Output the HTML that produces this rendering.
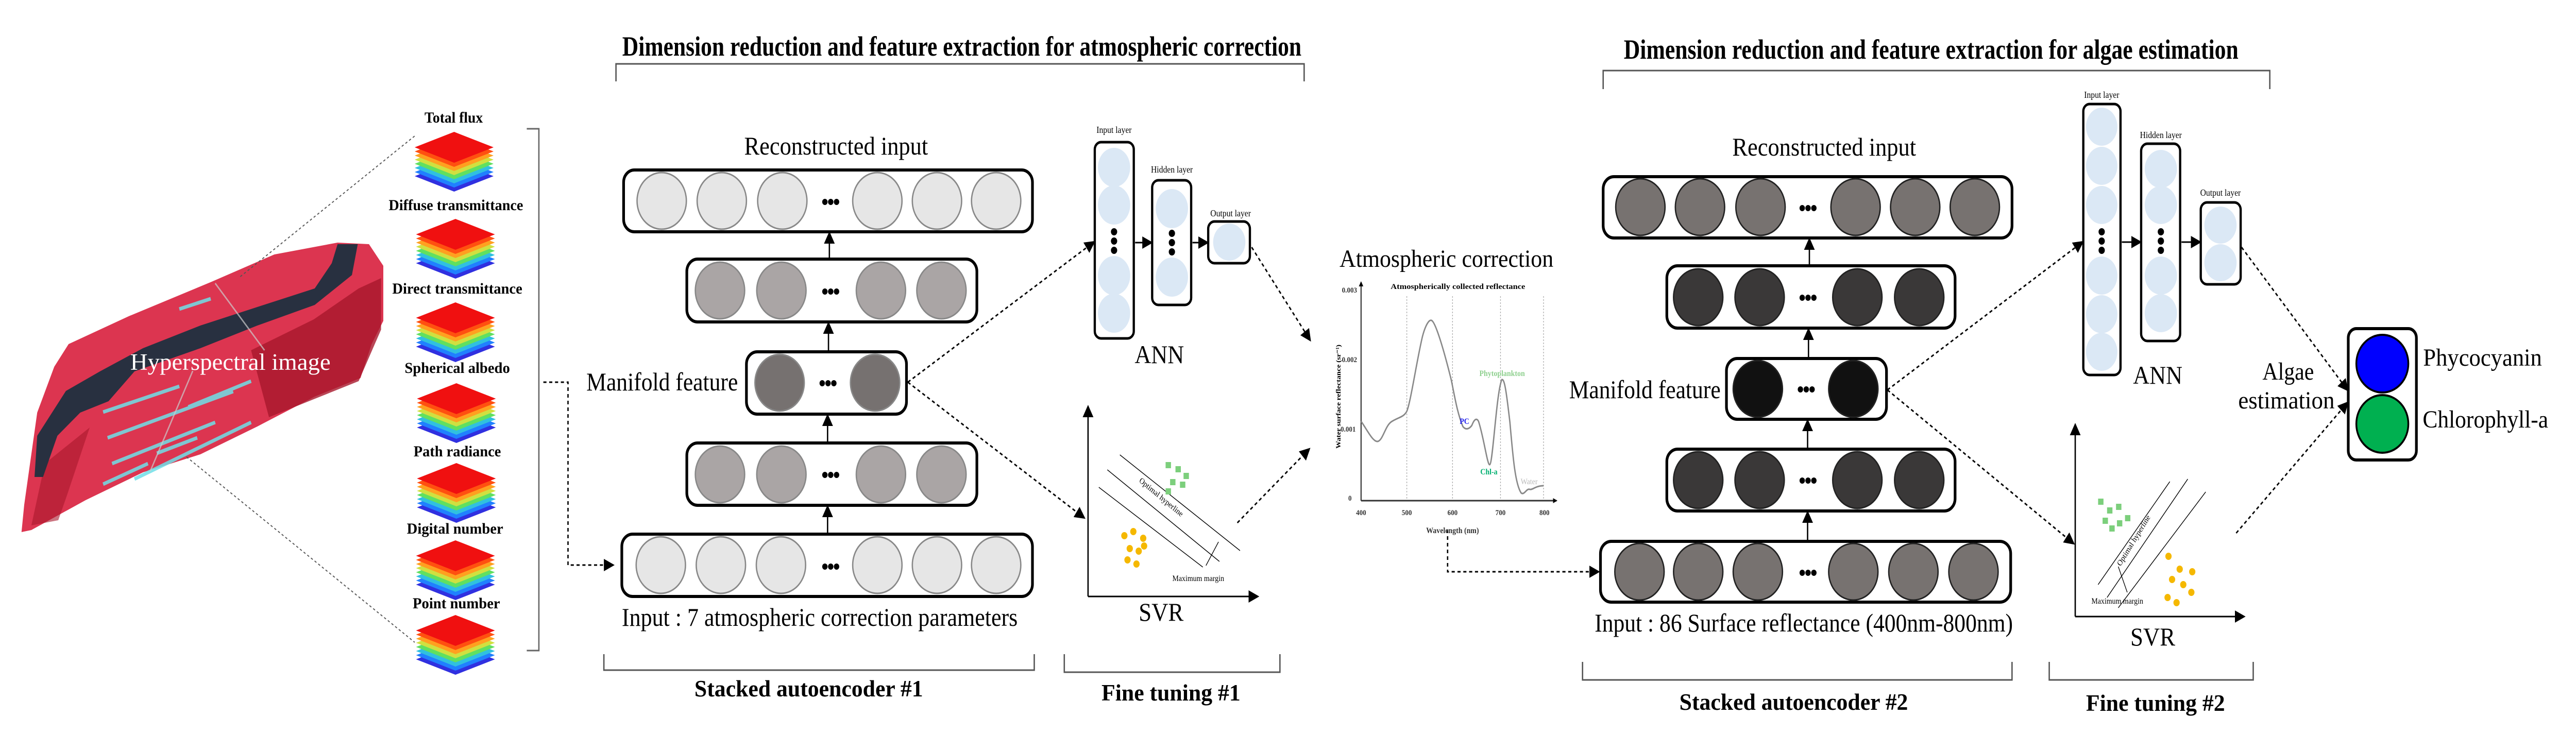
<!DOCTYPE html>
<html><head><meta charset="utf-8"><style>
html,body{margin:0;padding:0;background:#fff;width:100%;height:100%;overflow:hidden;}
svg{display:block;width:100vw;height:100vh;}
text{font-family:"Liberation Serif",serif;}
</style></head><body>
<svg viewBox="0 0 5746 1425" preserveAspectRatio="none" xmlns="http://www.w3.org/2000/svg">
<defs>
<marker id="ah" markerWidth="10" markerHeight="10" refX="8" refY="5" orient="auto" markerUnits="userSpaceOnUse" viewBox="0 0 10 10"><path d="M0,0 L10,5 L0,10 z" fill="#000"/></marker>
<marker id="ab" markerWidth="24" markerHeight="24" refX="20" refY="12" orient="auto" markerUnits="userSpaceOnUse" viewBox="0 0 24 24"><path d="M0,0 L24,12 L0,24 z" fill="#000"/></marker>
<g id="cube">
<polygon points="0,70 88,40 176,70 88,100" fill="#3030e0"/>
<polygon points="0,62 88,32 176,62 88,92" fill="#2080ff"/>
<polygon points="0,54 88,24 176,54 88,84" fill="#30c0e0"/>
<polygon points="0,46 88,16 176,46 88,76" fill="#60e060"/>
<polygon points="0,38 88,8 176,38 88,68" fill="#d0e040"/>
<polygon points="0,30 88,0 176,30 88,60" fill="#ffa020"/>
<polygon points="0,22 88,-8 176,22 88,52" fill="#ff5010"/>
<polygon points="0,14 88,-16 176,14 88,44" fill="#f01010"/>
</g>
</defs>

<!-- Hyperspectral image -->
<polygon points="48,1033 54,980 83,801 121,712 153,668 287,614 472,547 612,494 753,471 823,474 855,516 855,623 829,668 804,734 702,770 574,828 447,882 319,917 191,971 70,1029" fill="#dc3550"/>
<polygon points="560,680 700,620 800,560 850,540 850,640 800,740 700,775 600,810" fill="#a8182c" opacity="0.8"/>
<polygon points="100,900 200,830 150,960 130,1010 70,1020" fill="#a8182c" opacity="0.6"/>
<polygon points="753,474 798,474 785,534 702,592 574,632 447,676 300,721 242,779 179,801 128,846 96,926 77,926 83,846 147,759 223,721 319,676 447,632 574,596 702,560 740,511" fill="#283040"/>
<g stroke="#6fe0e8" stroke-width="7" opacity="0.85">
<line x1="230" y1="800" x2="400" y2="750"/><line x1="240" y1="850" x2="520" y2="760"/>
<line x1="250" y1="900" x2="480" y2="820"/><line x1="300" y1="930" x2="560" y2="820"/>
<line x1="350" y1="880" x2="440" y2="850"/><line x1="400" y1="600" x2="470" y2="580"/>
<line x1="420" y1="790" x2="560" y2="740"/><line x1="230" y1="940" x2="330" y2="900"/>
</g>
<g stroke="#ccc" stroke-width="3" opacity="0.7"><line x1="480" y1="550" x2="590" y2="680"/><line x1="430" y1="720" x2="335" y2="915"/></g>
<text x="514" y="718" font-size="46" fill="#fff" text-anchor="middle" textLength="447" lengthAdjust="spacingAndGlyphs">Hyperspectral image</text>
<line x1="536" y1="537" x2="925" y2="264" stroke="#555" stroke-width="2" stroke-dasharray="5,5"/>
<line x1="416" y1="887" x2="925" y2="1247" stroke="#555" stroke-width="2" stroke-dasharray="5,5"/>

<!-- Cubes -->
<g font-weight="bold" font-size="30" text-anchor="middle">
<text x="1012" y="238" textLength="130" lengthAdjust="spacingAndGlyphs">Total flux</text>
<text x="1017" y="408" textLength="300" lengthAdjust="spacingAndGlyphs">Diffuse transmittance</text>
<text x="1020" y="570" textLength="290" lengthAdjust="spacingAndGlyphs">Direct transmittance</text>
<text x="1020" y="724" textLength="235" lengthAdjust="spacingAndGlyphs">Spherical albedo</text>
<text x="1020" y="886" textLength="195" lengthAdjust="spacingAndGlyphs">Path radiance</text>
<text x="1015" y="1036" textLength="215" lengthAdjust="spacingAndGlyphs">Digital number</text>
<text x="1018" y="1181" textLength="195" lengthAdjust="spacingAndGlyphs">Point number</text>
</g>
<use href="#cube" x="925" y="272"/>
<use href="#cube" x="928" y="441"/>
<use href="#cube" x="928" y="603"/>
<use href="#cube" x="930" y="760"/>
<use href="#cube" x="930" y="915"/>
<use href="#cube" x="928" y="1065"/>
<use href="#cube" x="928" y="1210"/>
<polyline points="1175,250 1202,250 1202,1263 1175,1263" fill="none" stroke="#666" stroke-width="3"/>
<polyline points="1212,742 1267,742 1267,1097 1367,1097" fill="none" stroke="#000" stroke-width="3" stroke-dasharray="7,6" marker-end="url(#ab)"/>

<!-- Titles -->
<g font-weight="bold" font-size="54">
<text x="1388" y="108" textLength="1515" lengthAdjust="spacingAndGlyphs">Dimension reduction and feature extraction for atmospheric correction</text>
<text x="3622" y="114" textLength="1371" lengthAdjust="spacingAndGlyphs">Dimension reduction and feature extraction for algae estimation</text>
</g>
<polyline points="1374,158 1374,124 2909,124 2909,158" fill="none" stroke="#555" stroke-width="3"/>
<polyline points="3576,173 3576,137 5063,137 5063,173" fill="none" stroke="#555" stroke-width="3"/>

<!-- AE1 -->
<g font-size="50">
<text x="1865" y="300" text-anchor="middle" textLength="410" lengthAdjust="spacingAndGlyphs">Reconstructed input</text>
<text x="1308" y="758" textLength="338" lengthAdjust="spacingAndGlyphs">Manifold feature</text>
<text x="1387" y="1215" textLength="883" lengthAdjust="spacingAndGlyphs">Input : 7 atmospheric correction parameters</text>
</g>
<g stroke="#000" stroke-width="6" fill="#fff">
<rect x="1391" y="330" width="912" height="120" rx="24"/>
<rect x="1532" y="503" width="647" height="122" rx="24"/>
<rect x="1665" y="683" width="357" height="121" rx="24"/>
<rect x="1532" y="860" width="647" height="121" rx="24"/>
<rect x="1387" y="1037" width="916" height="121" rx="24"/>
</g>
<g stroke="#888" stroke-width="3">
<g fill="#e6e6e6"><circle cx="1476" cy="390" r="55"/><circle cx="1610" cy="390" r="55"/><circle cx="1745" cy="390" r="55"/><circle cx="1957" cy="390" r="55"/><circle cx="2090" cy="390" r="55"/><circle cx="2222" cy="390" r="55"/>
<circle cx="1474" cy="1097" r="55"/><circle cx="1608" cy="1097" r="55"/><circle cx="1742" cy="1097" r="55"/><circle cx="1957" cy="1097" r="55"/><circle cx="2090" cy="1097" r="55"/><circle cx="2222" cy="1097" r="55"/></g>
<g fill="#aaa5a5"><circle cx="1606" cy="564" r="55"/><circle cx="1743" cy="564" r="55"/><circle cx="1965" cy="564" r="55"/><circle cx="2100" cy="564" r="55"/>
<circle cx="1606" cy="921" r="55"/><circle cx="1743" cy="921" r="55"/><circle cx="1965" cy="921" r="55"/><circle cx="2100" cy="921" r="55"/></g>
<g fill="#767170"><circle cx="1739" cy="743" r="55"/><circle cx="1952" cy="743" r="55"/></g>
</g>
<g fill="#000">
<circle cx="1840" cy="392" r="6"/><circle cx="1853" cy="392" r="6"/><circle cx="1866" cy="392" r="6"/>
<circle cx="1840" cy="566" r="6"/><circle cx="1853" cy="566" r="6"/><circle cx="1866" cy="566" r="6"/>
<circle cx="1834" cy="744" r="6"/><circle cx="1847" cy="744" r="6"/><circle cx="1860" cy="744" r="6"/>
<circle cx="1840" cy="922" r="6"/><circle cx="1853" cy="922" r="6"/><circle cx="1866" cy="922" r="6"/>
<circle cx="1840" cy="1100" r="6"/><circle cx="1853" cy="1100" r="6"/><circle cx="1866" cy="1100" r="6"/>
</g>
<g stroke="#000" stroke-width="3" marker-end="url(#ab)">
<line x1="1850" y1="500" x2="1850" y2="453"/><line x1="1848" y1="680" x2="1848" y2="628"/>
<line x1="1846" y1="857" x2="1846" y2="807"/><line x1="1846" y1="1034" x2="1846" y2="984"/>
</g>
<polyline points="1347,1270 1347,1301 2307,1301 2307,1270" fill="none" stroke="#555" stroke-width="3"/>
<text x="1804" y="1352" font-size="46" font-weight="bold" text-anchor="middle" textLength="510" lengthAdjust="spacingAndGlyphs">Stacked autoencoder #1</text>
<polyline points="2374,1270 2374,1305 2855,1305 2855,1270" fill="none" stroke="#555" stroke-width="3"/>
<text x="2612" y="1360" font-size="46" font-weight="bold" text-anchor="middle" textLength="310" lengthAdjust="spacingAndGlyphs">Fine tuning #1</text>

<!-- ANN1 -->
<g font-size="18" text-anchor="middle"><text x="2485" y="258">Input layer</text><text x="2614" y="335">Hidden layer</text><text x="2745" y="420">Output layer</text></g>
<g stroke="#000" stroke-width="5" fill="#fff">
<rect x="2442" y="276" width="87" height="381" rx="14"/><rect x="2570" y="350" width="87" height="242" rx="14"/><rect x="2695" y="430" width="93" height="81" rx="14"/>
</g>
<g fill="#dbe8f5">
<ellipse cx="2485" cy="325" rx="36" ry="38"/><ellipse cx="2485" cy="398" rx="36" ry="38"/><ellipse cx="2485" cy="535" rx="36" ry="38"/><ellipse cx="2485" cy="608" rx="36" ry="38"/>
<ellipse cx="2614" cy="405" rx="36" ry="38"/><ellipse cx="2614" cy="538" rx="36" ry="38"/>
<ellipse cx="2742" cy="470" rx="36" ry="36"/>
</g>
<g fill="#000"><circle cx="2485" cy="450" r="7"/><circle cx="2485" cy="468" r="7"/><circle cx="2485" cy="486" r="7"/>
<circle cx="2614" cy="453" r="7"/><circle cx="2614" cy="471" r="7"/><circle cx="2614" cy="489" r="7"/></g>
<g stroke="#000" stroke-width="3" marker-end="url(#ab)"><line x1="2532" y1="471" x2="2568" y2="471"/><line x1="2660" y1="471" x2="2693" y2="471"/></g>
<text x="2586" y="705" font-size="50" text-anchor="middle" textLength="110" lengthAdjust="spacingAndGlyphs">ANN</text>

<!-- SVR1 -->
<g stroke="#000" stroke-width="3" fill="none">
<line x1="2427" y1="1158" x2="2427" y2="790" marker-end="url(#ab)"/><line x1="2427" y1="1158" x2="2805" y2="1158" marker-end="url(#ab)"/>
<g stroke-width="1.5"><line x1="2498" y1="883" x2="2766" y2="1069"/><line x1="2470" y1="912" x2="2720" y2="1090"/><line x1="2451" y1="946" x2="2683" y2="1101"/>
<line x1="2718" y1="1052" x2="2690" y2="1098"/></g>
</g>
<text x="2540" y="935" font-size="16" transform="rotate(36 2540 935)">Optimal hyperline</text>
<text x="2615" y="1128" font-size="16">Maximum margin</text>
<g fill="#7ccf7c"><rect x="2600" y="897" width="12" height="12"/><rect x="2622" y="905" width="12" height="12"/><rect x="2640" y="918" width="12" height="12"/><rect x="2610" y="930" width="12" height="12"/><rect x="2632" y="935" width="12" height="12"/><rect x="2600" y="948" width="12" height="12"/></g>
<g fill="#f5b800"><circle cx="2508" cy="1040" r="7"/><circle cx="2528" cy="1032" r="7"/><circle cx="2550" cy="1045" r="7"/><circle cx="2520" cy="1065" r="7"/><circle cx="2540" cy="1070" r="7"/><circle cx="2515" cy="1087" r="7"/><circle cx="2535" cy="1095" r="7"/><circle cx="2552" cy="1060" r="7"/></g>
<text x="2590" y="1205" font-size="50" text-anchor="middle" textLength="100" lengthAdjust="spacingAndGlyphs">SVR</text>

<!-- dashed connections -->
<g stroke="#000" stroke-width="3" stroke-dasharray="7,6" fill="none" marker-end="url(#ab)">
<line x1="2025" y1="742" x2="2440" y2="470"/>
<line x1="2025" y1="742" x2="2418" y2="1005"/>
<line x1="2792" y1="480" x2="2922" y2="660"/>
<line x1="2760" y1="1015" x2="2920" y2="872"/>
<polyline points="3229,1028 3229,1110 3565,1110"/>
<line x1="4210" y1="757" x2="4645" y2="470"/>
<line x1="4210" y1="757" x2="4625" y2="1055"/>
<line x1="5000" y1="480" x2="5236" y2="757"/>
<line x1="4988" y1="1035" x2="5236" y2="782"/>
</g>

<!-- Chart -->
<text x="2988" y="518" font-size="48" textLength="477" lengthAdjust="spacingAndGlyphs">Atmospheric correction</text>
<text x="3252" y="561" font-size="15" font-weight="bold" text-anchor="middle" textLength="300" lengthAdjust="spacingAndGlyphs">Atmospherically collected reflectance</text>
<g stroke="#aaa" stroke-width="1.5" stroke-dasharray="3,3"><line x1="3138" y1="575" x2="3138" y2="972"/><line x1="3240" y1="575" x2="3240" y2="972"/><line x1="3347" y1="575" x2="3347" y2="972"/><line x1="3443" y1="575" x2="3443" y2="972"/></g>
<line x1="3036" y1="972" x2="3036" y2="548" stroke="#333" stroke-width="2.5" marker-end="url(#ah)"/>
<line x1="3036" y1="972" x2="3472" y2="972" stroke="#333" stroke-width="3" marker-end="url(#ah)"/>
<path d="M3036,818 C3050,835 3062,858 3073,857 C3085,855 3090,825 3105,818 C3120,810 3130,810 3137,800 C3145,790 3160,700 3173,653 C3180,630 3188,620 3193,622 C3200,624 3215,660 3237,737 C3245,770 3250,800 3263,828 C3270,836 3278,832 3283,826 C3288,815 3293,810 3298,818 C3310,850 3318,905 3323,902 C3330,900 3338,760 3350,737 C3356,735 3360,760 3368,820 C3375,890 3380,940 3393,957 C3400,962 3405,948 3412,950 C3418,952 3425,943 3443,943" fill="none" stroke="#888" stroke-width="3"/>
<g font-size="15" font-weight="bold" text-anchor="end" fill="#333"><text x="3027" y="568">0.003</text><text x="3027" y="703">0.002</text><text x="3024" y="838">0.001</text><text x="3015" y="972">0</text></g>
<g font-size="15" font-weight="bold" text-anchor="middle" fill="#333"><text x="3036" y="1000">400</text><text x="3138" y="1000">500</text><text x="3240" y="1000">600</text><text x="3347" y="1000">700</text><text x="3445" y="1000">800</text></g>
<text x="3240" y="1035" font-size="16" font-weight="bold" text-anchor="middle" fill="#333">Wavelength (nm)</text>
<text x="2990" y="770" font-size="15" font-weight="bold" text-anchor="middle" transform="rotate(-90 2990 770)">Water surface reflectance (sr⁻¹)</text>
<text x="3300" y="730" font-size="16" fill="#8fd08f" font-weight="bold">Phytoplankton</text>
<text x="3256" y="823" font-size="16" fill="#2222ee" font-weight="bold">PC</text>
<text x="3302" y="921" font-size="16" fill="#00b070" font-weight="bold">Chl-a</text>
<text x="3392" y="940" font-size="16" fill="#bbb">Water</text>

<!-- AE2 -->
<g font-size="50">
<text x="4069" y="302" text-anchor="middle" textLength="410" lengthAdjust="spacingAndGlyphs">Reconstructed input</text>
<text x="3500" y="773" textLength="338" lengthAdjust="spacingAndGlyphs">Manifold feature</text>
<text x="3557" y="1226" textLength="933" lengthAdjust="spacingAndGlyphs">Input : 86 Surface reflectance (400nm-800nm)</text>
</g>
<g stroke="#000" stroke-width="6" fill="#fff">
<rect x="3576" y="343" width="912" height="119" rx="24"/>
<rect x="3718" y="516" width="643" height="121" rx="24"/>
<rect x="3851" y="696" width="357" height="118" rx="24"/>
<rect x="3718" y="872" width="643" height="120" rx="24"/>
<rect x="3570" y="1051" width="915" height="118" rx="24"/>
</g>
<g stroke="#222" stroke-width="3">
<g fill="#777270"><circle cx="3659" cy="402" r="55"/><circle cx="3792" cy="402" r="55"/><circle cx="3927" cy="402" r="55"/><circle cx="4139" cy="402" r="55"/><circle cx="4272" cy="402" r="55"/><circle cx="4405" cy="402" r="55"/>
<circle cx="3657" cy="1110" r="55"/><circle cx="3788" cy="1110" r="55"/><circle cx="3921" cy="1110" r="55"/><circle cx="4134" cy="1110" r="55"/><circle cx="4268" cy="1110" r="55"/><circle cx="4402" cy="1110" r="55"/></g>
<g fill="#3a3838"><circle cx="3788" cy="577" r="55"/><circle cx="3925" cy="577" r="55"/><circle cx="4143" cy="577" r="55"/><circle cx="4281" cy="577" r="55"/>
<circle cx="3788" cy="932" r="55"/><circle cx="3925" cy="932" r="55"/><circle cx="4143" cy="932" r="55"/><circle cx="4281" cy="932" r="55"/></g>
<g fill="#111"><circle cx="3921" cy="755" r="55"/><circle cx="4134" cy="755" r="55"/></g>
</g>
<g fill="#000">
<circle cx="4020" cy="404" r="6"/><circle cx="4033" cy="404" r="6"/><circle cx="4046" cy="404" r="6"/>
<circle cx="4020" cy="578" r="6"/><circle cx="4033" cy="578" r="6"/><circle cx="4046" cy="578" r="6"/>
<circle cx="4016" cy="756" r="6"/><circle cx="4029" cy="756" r="6"/><circle cx="4042" cy="756" r="6"/>
<circle cx="4020" cy="933" r="6"/><circle cx="4033" cy="933" r="6"/><circle cx="4046" cy="933" r="6"/>
<circle cx="4020" cy="1112" r="6"/><circle cx="4033" cy="1112" r="6"/><circle cx="4046" cy="1112" r="6"/>
</g>
<g stroke="#000" stroke-width="3" marker-end="url(#ab)">
<line x1="4036" y1="513" x2="4036" y2="465"/><line x1="4034" y1="693" x2="4034" y2="640"/>
<line x1="4032" y1="869" x2="4032" y2="817"/><line x1="4032" y1="1048" x2="4032" y2="995"/>
</g>
<polyline points="3530,1285 3530,1320 4488,1320 4488,1285" fill="none" stroke="#555" stroke-width="3"/>
<text x="4001" y="1378" font-size="46" font-weight="bold" text-anchor="middle" textLength="510" lengthAdjust="spacingAndGlyphs">Stacked autoencoder #2</text>
<polyline points="4571,1285 4571,1320 5026,1320 5026,1285" fill="none" stroke="#555" stroke-width="3"/>
<text x="4808" y="1380" font-size="46" font-weight="bold" text-anchor="middle" textLength="310" lengthAdjust="spacingAndGlyphs">Fine tuning #2</text>

<!-- ANN2 -->
<g font-size="18" text-anchor="middle"><text x="4688" y="190">Input layer</text><text x="4820" y="268">Hidden layer</text><text x="4953" y="380">Output layer</text></g>
<g stroke="#000" stroke-width="5" fill="#fff">
<rect x="4647" y="202" width="83" height="526" rx="14"/><rect x="4776" y="279" width="87" height="383" rx="14"/><rect x="4909" y="393" width="89" height="159" rx="14"/>
</g>
<g fill="#dbe8f5">
<ellipse cx="4688" cy="246" rx="35" ry="37"/><ellipse cx="4688" cy="322" rx="35" ry="37"/><ellipse cx="4688" cy="398" rx="35" ry="37"/><ellipse cx="4688" cy="535" rx="35" ry="37"/><ellipse cx="4688" cy="610" rx="35" ry="37"/><ellipse cx="4688" cy="683" rx="35" ry="37"/>
<ellipse cx="4820" cy="328" rx="36" ry="37"/><ellipse cx="4820" cy="398" rx="36" ry="37"/><ellipse cx="4820" cy="535" rx="36" ry="37"/><ellipse cx="4820" cy="608" rx="36" ry="37"/>
<ellipse cx="4953" cy="437" rx="36" ry="36"/><ellipse cx="4953" cy="510" rx="36" ry="36"/>
</g>
<g fill="#000"><circle cx="4688" cy="450" r="7"/><circle cx="4688" cy="468" r="7"/><circle cx="4688" cy="486" r="7"/>
<circle cx="4820" cy="450" r="7"/><circle cx="4820" cy="468" r="7"/><circle cx="4820" cy="486" r="7"/></g>
<g stroke="#000" stroke-width="3" marker-end="url(#ab)"><line x1="4733" y1="470" x2="4774" y2="470"/><line x1="4866" y1="470" x2="4907" y2="470"/></g>
<text x="4813" y="745" font-size="50" text-anchor="middle" textLength="110" lengthAdjust="spacingAndGlyphs">ANN</text>

<!-- SVR2 -->
<g stroke="#000" stroke-width="3" fill="none">
<line x1="4629" y1="1197" x2="4629" y2="825" marker-end="url(#ab)"/><line x1="4629" y1="1197" x2="5005" y2="1197" marker-end="url(#ab)"/>
<g stroke-width="1.5"><line x1="4680" y1="1135" x2="4840" y2="935"/><line x1="4700" y1="1160" x2="4880" y2="930"/><line x1="4725" y1="1180" x2="4920" y2="955"/>
<line x1="4725" y1="1100" x2="4745" y2="1150"/></g>
</g>
<text x="4730" y="1100" font-size="16" transform="rotate(-55 4730 1100)">Optimal hyperline</text>
<text x="4665" y="1172" font-size="16">Maximum margin</text>
<g fill="#7ccf7c"><rect x="4680" y="968" width="12" height="12"/><rect x="4700" y="985" width="12" height="12"/><rect x="4720" y="978" width="12" height="12"/><rect x="4690" y="1005" width="12" height="12"/><rect x="4722" y="1010" width="12" height="12"/><rect x="4740" y="1000" width="12" height="12"/><rect x="4705" y="1020" width="12" height="12"/></g>
<g fill="#f5b800"><circle cx="4837" cy="1080" r="7"/><circle cx="4862" cy="1105" r="7"/><circle cx="4890" cy="1110" r="7"/><circle cx="4845" cy="1125" r="7"/><circle cx="4870" cy="1135" r="7"/><circle cx="4888" cy="1150" r="7"/><circle cx="4835" cy="1160" r="7"/><circle cx="4855" cy="1170" r="7"/></g>
<text x="4802" y="1253" font-size="50" text-anchor="middle" textLength="100" lengthAdjust="spacingAndGlyphs">SVR</text>

<!-- Results -->
<g font-size="48" text-anchor="middle"><text x="5104" y="737" textLength="115" lengthAdjust="spacingAndGlyphs">Algae</text><text x="5100" y="793" textLength="215" lengthAdjust="spacingAndGlyphs">estimation</text></g>
<rect x="5238" y="638" width="152" height="255" rx="18" fill="#fff" stroke="#000" stroke-width="6"/>
<ellipse cx="5314" cy="706" rx="58" ry="56" fill="#0000ff" stroke="#000" stroke-width="4"/>
<ellipse cx="5314" cy="823" rx="58" ry="56" fill="#00b050" stroke="#000" stroke-width="4"/>
<g font-size="48"><text x="5405" y="710" textLength="265" lengthAdjust="spacingAndGlyphs">Phycocyanin</text><text x="5404" y="830" textLength="280" lengthAdjust="spacingAndGlyphs">Chlorophyll-a</text></g>
</svg>
</body></html>
